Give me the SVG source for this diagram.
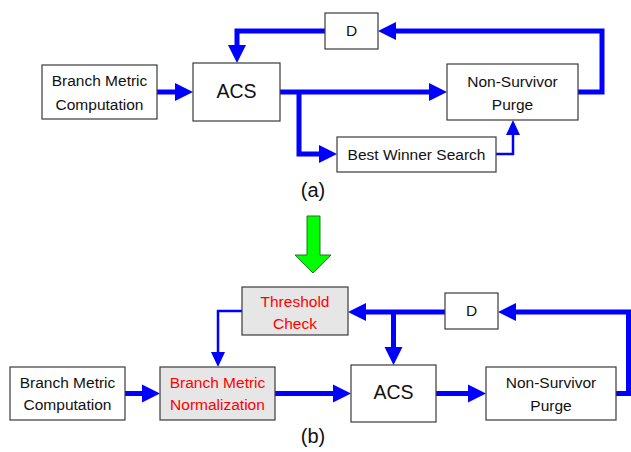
<svg xmlns="http://www.w3.org/2000/svg" width="631" height="452" viewBox="0 0 631 452">
<style>
.box{fill:#ffffff;stroke:#3a3a3a;stroke-width:1.2}
.gbox{fill:#e6e6e6;stroke:#3a3a3a;stroke-width:1.2}
.t{font-family:"Liberation Sans",Arial,sans-serif;font-size:15.5px;fill:#111;text-anchor:middle}
.red{fill:#ff0000}
.big{font-size:19.5px}
.lbl{font-family:"Liberation Sans",Arial,sans-serif;font-size:20px;fill:#111;text-anchor:middle}
.thick{fill:none;stroke:#0000ff;stroke-width:5;marker-end:url(#ah)}
.thin{fill:none;stroke:#0000ff;stroke-width:2.5;marker-end:url(#ahs)}
</style>
<defs>
<marker id="ah" markerUnits="userSpaceOnUse" markerWidth="18" markerHeight="18" refX="0" refY="9" orient="auto" overflow="visible">
<path d="M0,0 L18,9 L0,18 Z" fill="#0000ff"/>
</marker>
<marker id="ahs" markerUnits="userSpaceOnUse" markerWidth="15" markerHeight="14" refX="0" refY="7" orient="auto" overflow="visible">
<path d="M0,0 L15,7 L0,14 Z" fill="#0000ff"/>
</marker>
</defs>

<g id="connectors">
<!-- (a) -->
<path class="thick" d="M157,92 H175"/>
<path class="thick" d="M280,92 H429"/>
<path class="thick" d="M299,92 V154 H319"/>
<path class="thin" d="M496,154 H513 V135"/>
<path class="thick" d="M578,92 H602 V31 H396"/>
<path class="thick" d="M325,31 H237 V45"/>
<!-- (b) -->
<path class="thick" d="M125,393.5 H142"/>
<path class="thick" d="M275,393.5 H333"/>
<path class="thick" d="M436,393.5 H468"/>
<path class="thick" d="M616,393.5 H628.5 V312 H516"/>
<path class="thick" d="M445,312 H366"/>
<path class="thick" d="M393.5,312 V347"/>
<path class="thin" d="M242,311 H218 V352"/>
</g>

<!-- diagram (a) -->
<g id="a_bmc">
<rect class="box" x="42" y="65" width="115" height="54"/>
<text class="t" x="99.5" y="86">Branch Metric</text>
<text class="t" x="99.5" y="110">Computation</text>
</g>
<g id="a_acs">
<rect class="box" x="193" y="63" width="87" height="58"/>
<text class="t big" x="236.5" y="98">ACS</text>
</g>
<g id="a_d">
<rect class="box" x="325" y="13" width="53" height="36"/>
<text class="t" x="351.5" y="36">D</text>
</g>
<g id="a_nsp">
<rect class="box" x="447" y="64" width="131" height="56"/>
<text class="t" x="512.5" y="87">Non-Survivor</text>
<text class="t" x="512.5" y="110">Purge</text>
</g>
<g id="a_bws">
<rect class="box" x="337" y="137" width="159" height="35"/>
<text class="t" x="416.5" y="160">Best Winner Search</text>
</g>
<text class="lbl" x="313" y="197">(a)</text>

<!-- transition arrow -->
<g id="green_arrow">
<polygon points="307,216 320,216 320,255 331,255 313,273 295,255 307,255" fill="#00ff00" stroke="#1a7a1a" stroke-width="1"/>
</g>

<!-- diagram (b) -->
<g id="b_threshold">
<rect class="gbox" x="242" y="287" width="106" height="48"/>
<text class="t red" x="295" y="307">Threshold</text>
<text class="t red" x="295" y="329">Check</text>
</g>
<g id="b_d">
<rect class="box" x="445" y="293" width="53" height="36"/>
<text class="t" x="471.5" y="316">D</text>
</g>
<g id="b_bmc">
<rect class="box" x="10" y="367" width="115" height="53"/>
<text class="t" x="67.5" y="388">Branch Metric</text>
<text class="t" x="67.5" y="410">Computation</text>
</g>
<g id="b_bmn">
<rect class="gbox" x="160" y="367" width="115" height="53"/>
<text class="t red" x="217.5" y="388">Branch Metric</text>
<text class="t red" x="217.5" y="410">Normalization</text>
</g>
<g id="b_acs">
<rect class="box" x="351" y="365" width="85" height="57"/>
<text class="t big" x="393.5" y="399">ACS</text>
</g>
<g id="b_nsp">
<rect class="box" x="486" y="367" width="130" height="53"/>
<text class="t" x="551" y="388">Non-Survivor</text>
<text class="t" x="551" y="411">Purge</text>
</g>
<text class="lbl" x="313" y="443">(b)</text>
</svg>
